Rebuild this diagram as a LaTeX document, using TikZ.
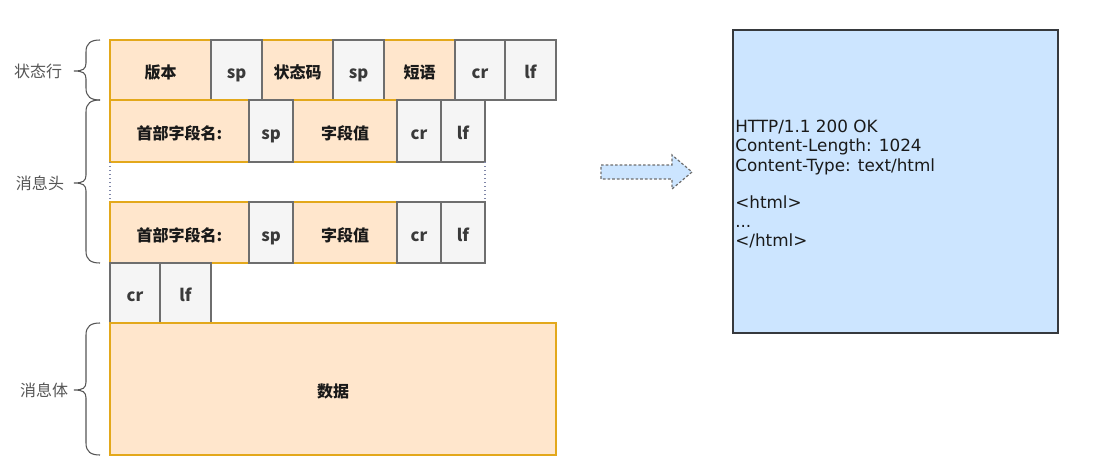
\documentclass[tikz,border=0pt]{standalone}
\usepackage{fontspec}
\newfontfamily\cjk{Noto Sans CJK SC}
\newfontfamily\comic{DejaVu Sans}
\definecolor{orangefill}{HTML}{FFE6CC}
\definecolor{orangeline}{HTML}{E3A81B}
\definecolor{greyfill}{HTML}{F5F5F5}
\definecolor{greyline}{HTML}{6E6E6E}
\definecolor{bluefill}{HTML}{CCE5FF}
\definecolor{blueline}{HTML}{36393D}
\definecolor{textdark}{HTML}{1A1A1A}
\definecolor{textgrey}{HTML}{3A3A3A}
\definecolor{labelgrey}{HTML}{555555}
\definecolor{dotline}{HTML}{7F86A8}
\newcommand\cellnode[7]{%
  \node[#2, minimum width={(#5-#3)*0.75pt}, minimum height={(#6-#4)*0.75pt}] (#1) at ({(#3+#5)/2},{(#4+#6)/2}) {#7};}
\newcommand\mybrace[3]{%
  \draw[bracestyle] (100,#1) .. controls (91,#1) and (86,#1+3) .. (86,#1+12) -- (86,#3-8) .. controls (86,#3-2) and (83,#3) .. (74,#3) .. controls (83,#3) and (86,#3+2) .. (86,#3+8) -- (86,#2-12) .. controls (86,#2-3) and (91,#2) .. (100,#2);}
\tikzset{
  cellbase/.style={inner sep=0pt, outer sep=0pt, line width=1pt, text height=13pt, text depth=0pt, font=\cjk\bfseries\fontsize{12}{14}\selectfont},
  orangecell/.style={cellbase, draw=orangeline, fill=orangefill, text=textdark},
  greycell/.style={cellbase, draw=greyline, fill=greyfill, text=textgrey, font=\cjk\bfseries\fontsize{12.5}{14}\selectfont},
  bluebox/.style={inner sep=0pt, outer sep=0pt, line width=1.2pt, draw=blueline, fill=bluefill},
  bracestyle/.style={draw=labelgrey, line width=0.8pt},
  sidelabel/.style={text=labelgrey, font=\cjk\fontsize{12}{14}\selectfont, inner sep=0pt},
  codeline/.style={anchor=base west, inner sep=0pt, text=textdark, font=\comic\fontsize{12.6}{14}\selectfont},
  gapline/.style={draw=dotline, line width=1pt, dotted},
  blockarrow/.style={draw=greyline, fill=bluefill, line width=0.9pt, dash pattern=on 2pt off 1.5pt}
}
\begin{document}
\begin{tikzpicture}[x=0.75pt, y=-0.75pt]
\useasboundingbox (0,0) rectangle (1109,475);
% status line
\cellnode{ver}{orangecell}{110}{40}{211}{100}{版本}
\cellnode{code}{orangecell}{262}{40}{333}{100}{状态码}
\cellnode{phrase}{orangecell}{384}{40}{455}{100}{短语}
\cellnode{sp1}{greycell}{211}{40}{262}{100}{sp}
\cellnode{sp2}{greycell}{333}{40}{384}{100}{sp}
\cellnode{cr1}{greycell}{455}{40}{505}{100}{cr}
\cellnode{lf1}{greycell}{505}{40}{556}{100}{lf}
% header line 1
\cellnode{hname1}{orangecell}{110}{100}{249}{162}{首部字段名:}
\cellnode{hval1}{orangecell}{293}{100}{397}{162}{字段值}
\cellnode{hsp1}{greycell}{249}{100}{293}{162}{sp}
\cellnode{hcr1}{greycell}{397}{100}{441}{162}{cr}
\cellnode{hlf1}{greycell}{441}{100}{485}{162}{lf}
% header line 2
\cellnode{hname2}{orangecell}{110}{202}{249}{263}{首部字段名:}
\cellnode{hval2}{orangecell}{293}{202}{397}{263}{字段值}
\cellnode{hsp2}{greycell}{249}{202}{293}{263}{sp}
\cellnode{hcr2}{greycell}{397}{202}{441}{263}{cr}
\cellnode{hlf2}{greycell}{441}{202}{485}{263}{lf}
\draw[gapline] (hname1.south west) -- (hname2.north west);
\draw[gapline] (hlf1.south east) -- (hlf2.north east);
% empty line
\cellnode{ecr}{greycell}{110}{263}{160}{323}{cr}
\cellnode{elf}{greycell}{160}{263}{211}{323}{lf}
% body
\cellnode{body}{orangecell}{110}{323}{556}{455}{数据}
% braces and labels
\mybrace{40}{100}{71}
\mybrace{100}{263}{183}
\mybrace{323}{455}{390}
\node[sidelabel] (lstatus) at (38,71) {状态行};
\node[sidelabel] (lheader) at (40,183) {消息头};
\node[sidelabel] (lbody) at (44,390) {消息体};
% arrow
\draw[blockarrow] (601,165) -- (672,165) -- (672,155) -- (692,172) -- (672,189) -- (672,179) -- (601,179) -- cycle;
% response box
\cellnode{resp}{bluebox}{733}{30}{1058}{333}{}
\node[codeline] (t1) at (735,132) {HTTP/1.1 200 OK};
\node[codeline] (t2) at (735,151.5) {Content-Length: 1024};
\node[codeline] (t3) at (735,171) {Content-Type: text/html};
\node[codeline] (t4) at (735,208) {<html>};
\node[codeline] (t5) at (735,227) {...};
\node[codeline] (t6) at (735,246) {</html>};
\end{tikzpicture}
\end{document}
